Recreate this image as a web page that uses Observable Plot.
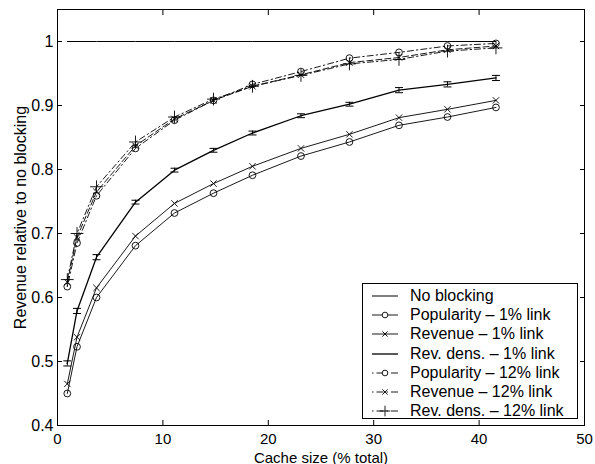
<!DOCTYPE html>
<html><head><meta charset="utf-8">
<script src="https://cdn.jsdelivr.net/npm/d3@7"></script>
<script src="https://cdn.jsdelivr.net/npm/@observablehq/plot@0.6"></script>
<style>
body{margin:0;background:#fff;font-family:"Liberation Sans",Arial,Helvetica,sans-serif;}
#wrap{position:relative;width:595px;height:464px;}
#legend{position:absolute;left:362px;top:283px;width:216px;height:136px;border:1px solid #000;background:#fff;box-sizing:border-box;padding-top:2px;}
.row{height:19.3px;display:flex;align-items:center;font-size:16px;white-space:nowrap;color:#000;}
.row svg{margin-left:9px;margin-right:12px;flex:none;}
</style></head><body><div id="wrap"></div>
<script>
// ---- data ----
const cacheSize = [0.93, 1.85, 3.7, 7.4, 11.1, 14.8, 18.5, 23.1, 27.7, 32.4, 37.0, 41.6];
const noBlocking = [1, 1, 1, 1, 1, 1, 1, 1, 1, 1, 1, 1];
const popularity1 = [0.450, 0.523, 0.600, 0.681, 0.732, 0.763, 0.791, 0.821, 0.843, 0.869, 0.882, 0.897];
const revenue1 = [0.465, 0.538, 0.615, 0.696, 0.747, 0.778, 0.805, 0.833, 0.855, 0.881, 0.894, 0.908];
const revDens1 = [0.497, 0.579, 0.663, 0.749, 0.799, 0.830, 0.857, 0.884, 0.902, 0.924, 0.933, 0.943];
const revDens1Err = [0.004, 0.004, 0.004, 0.003, 0.003, 0.003, 0.003, 0.003, 0.003, 0.004, 0.004, 0.004];
const popularity12 = [0.617, 0.685, 0.759, 0.833, 0.877, 0.908, 0.933, 0.953, 0.974, 0.983, 0.993, 0.997];
const revenue12 = [0.624, 0.694, 0.765, 0.837, 0.879, 0.908, 0.930, 0.948, 0.967, 0.975, 0.987, 0.993];
const revDens12 = [0.628, 0.700, 0.773, 0.843, 0.882, 0.910, 0.930, 0.947, 0.965, 0.972, 0.985, 0.990];
const xTicks = [0, 10, 20, 30, 40, 50];
const yTicks = [0.4, 0.5, 0.6, 0.7, 0.8, 0.9, 1];
const seriesNames = ["No blocking", "Popularity \u2013 1% link", "Revenue \u2013 1% link", "Rev. dens. \u2013 1% link",
  "Popularity \u2013 12% link", "Revenue \u2013 12% link", "Rev. dens. \u2013 12% link"];

// ---- styles ----
const series = [
  {name: seriesNames[0], values: noBlocking, marker: null, dash: null, width: 1},
  {name: seriesNames[1], values: popularity1, marker: "circle", dash: null, width: 0.9},
  {name: seriesNames[2], values: revenue1, marker: "times", dash: null, width: 0.9},
  {name: seriesNames[3], values: revDens1, marker: null, dash: null, width: 1.3, err: revDens1Err},
  {name: seriesNames[4], values: popularity12, marker: "circle", dash: "1.5,3,6,3", width: 0.9},
  {name: seriesNames[5], values: revenue12, marker: "times", dash: "6,3", width: 0.9},
  {name: seriesNames[6], values: revDens12, marker: "plus", dash: "6,3,1.5,3", width: 0.9}
];
const markerR = {circle: 3.4, times: 3, plus: 4.2};

const capSymbol = {draw(ctx, size) { const w = Math.sqrt(size / Math.PI); ctx.moveTo(-w, 0); ctx.lineTo(w, 0); }};

const marks = [];
for (const s of series) {
  const rows = cacheSize.map((x, i) => ({x, y: s.values[i], e: s.err ? s.err[i] : 0}));
  marks.push(Plot.line(rows, {x: "x", y: "y", stroke: "#000", strokeWidth: s.width, strokeDasharray: s.dash || undefined}));
  if (s.marker) marks.push(Plot.dot(rows, {x: "x", y: "y", symbol: s.marker, r: markerR[s.marker], stroke: "#000", fill: "none", strokeWidth: 0.9}));
  if (s.err) {
    marks.push(Plot.ruleX(rows, {x: "x", y1: d => d.y - d.e, y2: d => d.y + d.e, stroke: "#000", strokeWidth: 1}));
    marks.push(Plot.dot(rows, {x: "x", y: d => d.y - d.e, symbol: capSymbol, r: 4, stroke: "#000", strokeWidth: 1}));
    marks.push(Plot.dot(rows, {x: "x", y: d => d.y + d.e, symbol: capSymbol, r: 4, stroke: "#000", strokeWidth: 1}));
  }
}

const fmt = d => String(+(+d).toFixed(1));
const chart = Plot.plot({
  width: 595, height: 464,
  marginLeft: 57, marginRight: 11, marginTop: 9, marginBottom: 39,
  style: {fontSize: "16px", fontFamily: "'Liberation Sans', Arial, Helvetica, sans-serif", background: "#fff", color: "#000"},
  x: {domain: [0, 50]},
  y: {domain: [0.4, 1.05]},
  marks: [
    ...marks,
    Plot.frame({stroke: "#000", strokeWidth: 1}),
    Plot.axisX({anchor: "bottom", ticks: xTicks, tickSize: -5, tickPadding: 12.5, tickFormat: fmt, fontSize: 15,
      label: "Cache size (% total)", labelAnchor: "center", labelArrow: "none", labelOffset: 37}),
    Plot.axisX({anchor: "top", ticks: xTicks, tickSize: -5, tickFormat: () => "", label: null}),
    Plot.axisY({anchor: "left", ticks: yTicks, tickSize: -5, tickPadding: 9, tickFormat: fmt,
      label: "Revenue relative to no blocking", labelAnchor: "center", labelArrow: "none", labelOffset: 43}),
    Plot.axisY({anchor: "right", ticks: yTicks, tickSize: -5, tickFormat: () => "", label: null})
  ]
});
const wrap = document.getElementById("wrap");
wrap.appendChild(chart);

// ---- legend ----
const legend = document.createElement("div");
legend.id = "legend";
for (const s of series) {
  const row = document.createElement("div");
  row.className = "row";
  const svg = d3.create("svg").attr("width", 26).attr("height", 12);
  svg.append("line").attr("x1", 0).attr("x2", 26).attr("y1", 6).attr("y2", 6)
    .attr("stroke", "#000").attr("stroke-width", s.width)
    .attr("stroke-dasharray", s.dash ? "1.5,3,7,3" : null);
  if (s.marker) {
    const sym = {circle: d3.symbolCircle, times: d3.symbolTimes, plus: d3.symbolPlus}[s.marker];
    const r = markerR[s.marker];
    svg.append("path").attr("transform", "translate(13,6)")
      .attr("d", d3.symbol(sym, Math.PI * r * r * 0.7)())
      .attr("fill", s.marker === "circle" ? "#fff" : "none").attr("stroke", "#000").attr("stroke-width", 0.9);
  }
  row.appendChild(svg.node());
  const t = document.createElement("span");
  t.textContent = s.name;
  row.appendChild(t);
  legend.appendChild(row);
}
wrap.appendChild(legend);
</script>
</body></html>
